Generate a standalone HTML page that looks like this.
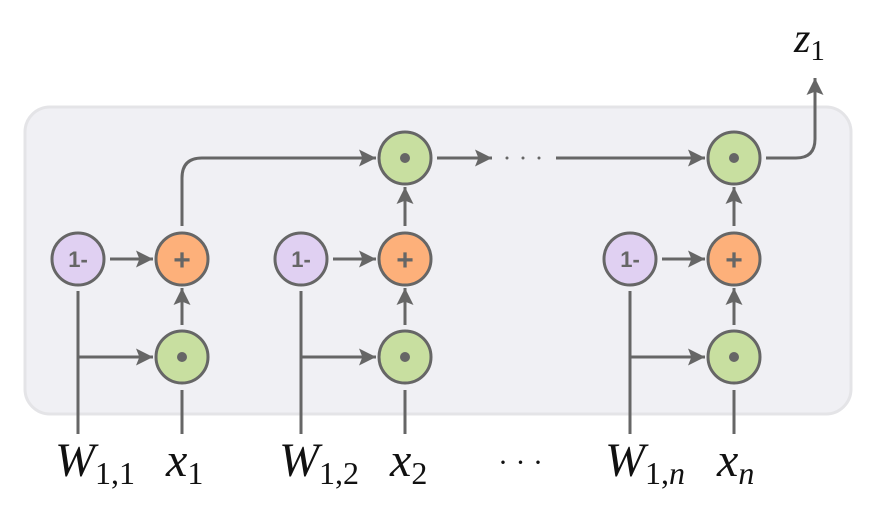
<!DOCTYPE html>
<html><head><style>body{margin:0;background:#fff}svg{display:block}</style></head><body>
<svg width="883" height="517" viewBox="0 0 883 517" xmlns="http://www.w3.org/2000/svg">
<defs>
<marker id="b" viewBox="0 0 10 10" markerWidth="22" markerHeight="17" refX="10" refY="5" orient="auto" markerUnits="userSpaceOnUse"><path d="M0,0 L10,5 L0,10 L2,5 z" fill="#666"/></marker></defs>
<rect x="25" y="107" width="826" height="307" rx="25" fill="#f0f0f4" stroke="#e4e4e7" stroke-width="3"/>
<g stroke="#666" stroke-width="3" fill="none">
<path d="M78,291 V434"/><path d="M78,357 H153" marker-end="url(#b)"/>
<path d="M301,291 V434"/><path d="M301,357 H376" marker-end="url(#b)"/>
<path d="M630,291 V434"/><path d="M630,357 H705" marker-end="url(#b)"/>
<path d="M182,390 V434 M405,390 V434 M734,390 V434"/>
<path d="M182,325 V288" marker-end="url(#b)"/><path d="M405,325 V288" marker-end="url(#b)"/><path d="M734,325 V288" marker-end="url(#b)"/>
<path d="M110,259 H153" marker-end="url(#b)"/><path d="M333,259 H376" marker-end="url(#b)"/><path d="M662,259 H705" marker-end="url(#b)"/>
<path d="M405,226 V187" marker-end="url(#b)"/><path d="M734,226 V187" marker-end="url(#b)"/>
<path d="M182,226 V178 Q182,158 202,158 H376" marker-end="url(#b)"/>
<path d="M437,158 H492" marker-end="url(#b)"/>
<path d="M556,158 H705" marker-end="url(#b)"/>
<path d="M766,158 H796 Q815,158 815,139 V78" marker-end="url(#b)"/>
</g>
<g fill="#666"><circle cx="507" cy="158" r="1.5"/><circle cx="523" cy="158" r="1.5"/><circle cx="539" cy="158" r="1.5"/></g>
<g stroke="#666" stroke-width="3">
<circle cx="78" cy="259" r="26" fill="#e0d0f2"/><circle cx="301" cy="259" r="26" fill="#e0d0f2"/><circle cx="630" cy="259" r="26" fill="#e0d0f2"/>
<circle cx="182" cy="259" r="26" fill="#fdb07a"/><circle cx="405" cy="259" r="26" fill="#fdb07a"/><circle cx="734" cy="259" r="26" fill="#fdb07a"/>
<circle cx="182" cy="357" r="26" fill="#c8dfa0"/><circle cx="405" cy="357" r="26" fill="#c8dfa0"/><circle cx="734" cy="357" r="26" fill="#c8dfa0"/>
<circle cx="405" cy="158" r="26" fill="#c8dfa0"/><circle cx="734" cy="158" r="26" fill="#c8dfa0"/>
</g>
<g fill="#666"><circle cx="182" cy="357" r="5"/><circle cx="405" cy="357" r="5"/><circle cx="734" cy="357" r="5"/><circle cx="405" cy="158" r="5"/><circle cx="734" cy="158" r="5"/></g>
<g font-family="Liberation Sans, sans-serif" font-weight="bold" fill="#666" text-anchor="middle">
<text x="78" y="267" font-size="22">1-</text><text x="301" y="267" font-size="22">1-</text><text x="630" y="267" font-size="22">1-</text>
<text x="182" y="270" font-size="30">+</text><text x="405" y="270" font-size="30">+</text><text x="734" y="270" font-size="30">+</text>
</g>
<g font-family="Liberation Serif, serif" fill="#111" font-size="48">
<text x="55" y="476" font-style="italic">W<tspan font-style="normal" font-size="32" dy="8">1,1</tspan></text>
<text x="166" y="476" font-style="italic">x<tspan font-style="normal" font-size="32" dy="8">1</tspan></text>
<text x="279" y="476" font-style="italic">W<tspan font-style="normal" font-size="32" dy="8">1,2</tspan></text>
<text x="390" y="476" font-style="italic">x<tspan font-style="normal" font-size="32" dy="8">2</tspan></text>
<text x="498" y="472" font-size="30">· · ·</text>
<text x="605" y="476" font-style="italic">W<tspan font-style="normal" font-size="32" dy="8">1,</tspan><tspan font-style="italic" font-size="32">n</tspan></text>
<text x="717" y="476" font-style="italic">x<tspan font-size="32" dy="8">n</tspan></text>
<text x="794" y="52" font-style="italic" font-size="42">z<tspan font-style="normal" font-size="29" dy="8">1</tspan></text>
</g>
</svg>
</body></html>
